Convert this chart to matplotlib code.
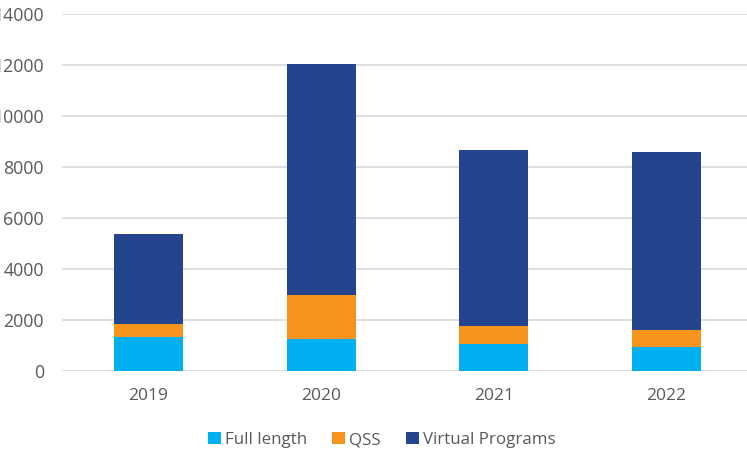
import numpy as np
from matplotlib import pyplot as plt

years = ['2019', '2020', '2021', '2022']
full_length = [1330, 1270, 1050, 930]
qss = [510, 1710, 720, 680]
virtual = [3530, 9060, 6900, 6980]

plt.rcParams['font.family'] = ['Open Sans', 'DejaVu Sans']

fig = plt.figure(figsize=(7.47, 4.55), dpi=100)
ax = fig.add_axes([62 / 747, 84 / 455, 691 / 747, 357 / 455])

x = np.arange(len(years))
w = 0.4
qss_base = np.array(full_length)
vp_base = qss_base + np.array(qss)
ax.bar(x, full_length, w, color='#00b0f0', label='Full length', zorder=3)
ax.bar(x, qss, w, bottom=qss_base, color='#f7941d', label='QSS', zorder=3)
ax.bar(x, virtual, w, bottom=vp_base, color='#24448e', label='Virtual Programs', zorder=3)

ax.set_xlim(-0.5, 3.5)
ax.set_ylim(0, 14000)
ax.set_yticks(range(0, 14001, 2000))
ax.set_xticks(x)
ax.set_xticklabels(years)
ax.yaxis.grid(True, color='#d9d9d9', linewidth=1.2, zorder=0)
for s in ax.spines.values():
    s.set_visible(False)
ax.tick_params(axis='y', length=0, pad=13, labelsize=12.8, labelcolor='#595959')
ax.tick_params(axis='x', length=0, pad=12, labelsize=12.5, labelcolor='#595959')

fig.legend(loc='center', bbox_to_anchor=(382 / 747, 15 / 455), ncol=3, frameon=False,
           fontsize=12.2, handlelength=0.75, handleheight=0.75, handletextpad=0.25,
           columnspacing=1.5, labelcolor='#595959')

fig.savefig('out.png', dpi=100)
